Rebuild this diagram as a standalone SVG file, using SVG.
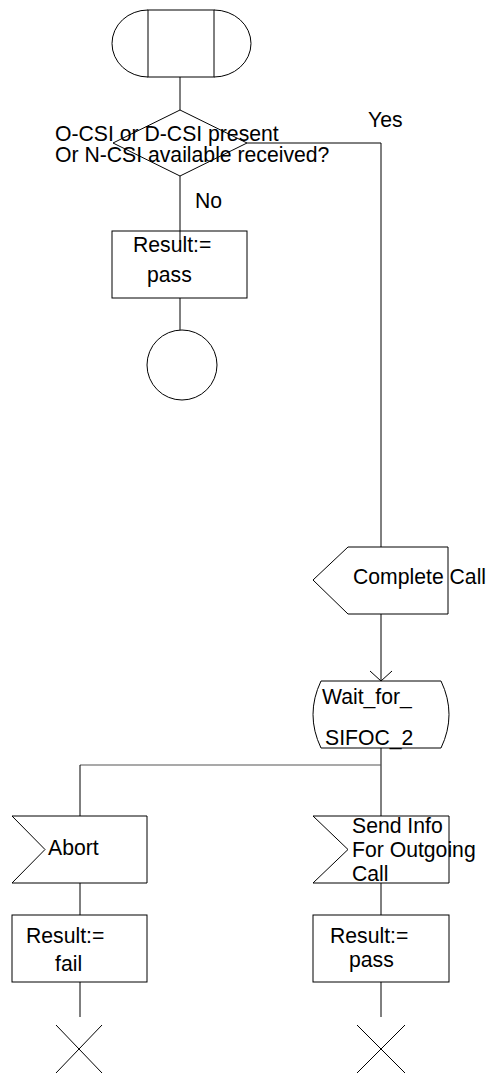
<svg xmlns="http://www.w3.org/2000/svg" width="486" height="1080" viewBox="0 0 486 1080">
<style>
.s{fill:none;stroke:#000;stroke-width:1}
.c{fill:none;stroke:#000;stroke-width:1}
.g{fill:none;stroke:#555;stroke-width:1.2}
text{font-family:"Liberation Sans",Arial,sans-serif;font-size:21.2px;fill:#000}
</style>
<rect width="486" height="1080" fill="#fff"/>
<g id="connectors">
<path class="c" d="M180,77V110"/>
<path class="c" d="M180,176V242"/>
<path class="c" d="M180,298V330"/>
<path class="c" d="M247,143H381V547"/>
<path class="c" d="M381,614V681"/>
<path class="c" d="M370,671L381,681L392,671"/>
<path class="c" d="M381,748V816"/>
<path class="g" d="M80,765H381"/>
<path class="c" d="M80,765V816"/>
<path class="c" d="M80,883V915"/>
<path class="c" d="M80,982V1017"/>
<path class="c" d="M381,883V915"/>
<path class="c" d="M381,982V1017"/>
</g>
<g id="start">
<rect class="s" x="148" y="10" width="66" height="67"/>
<path class="s" d="M148,10A36,33.5 0 0 0 148,77"/>
<path class="s" d="M214,10A37,33.5 0 0 1 214,77"/>
</g>
<g id="decision">
<path class="s" d="M180,110L247,143L180,176L113,143Z"/>
<text x="55" y="141">O-CSI or D-CSI present</text>
<text x="55" y="162">Or N-CSI available received?</text>
<text x="368" y="127">Yes</text>
<text x="195" y="208">No</text>
</g>
<g id="task_pass1">
<rect class="s" x="112" y="231" width="135" height="67"/>
<text x="133" y="252">Result:=</text>
<text x="147" y="282">pass</text>
</g>
<g id="connector_circle">
<circle class="s" cx="182" cy="365" r="35"/>
</g>
<g id="complete_call">
<path class="s" d="M348,547H448V614H348L313,580Z"/>
<text x="353" y="584">Complete Call</text>
</g>
<g id="state">
<path class="s" d="M321,681H441M321,748H441M321,681Q305,714.5 321,748M441,681Q457,714.5 441,748"/>
<text x="322" y="704">Wait_for_</text>
<text x="325" y="745">SIFOC_2</text>
</g>
<g id="abort">
<path class="s" d="M12,816H147V883H12L45,849.5Z"/>
<text x="48" y="855">Abort</text>
</g>
<g id="send_info">
<path class="s" d="M313,816H449V883H313L348,849.5Z"/>
<text x="352" y="833">Send Info</text>
<text x="352" y="857">For Outgoing</text>
<text x="352" y="881">Call</text>
</g>
<g id="task_fail">
<rect class="s" x="12" y="915" width="135" height="67"/>
<text x="26" y="943">Result:=</text>
<text x="55" y="971">fail</text>
</g>
<g id="task_pass2">
<rect class="s" x="313" y="915" width="136" height="67"/>
<text x="330" y="943">Result:=</text>
<text x="349" y="967">pass</text>
</g>
<g id="stop1">
<path class="s" d="M56,1025L102,1073M102,1025L56,1073"/>
</g>
<g id="stop2">
<path class="s" d="M357,1025L405,1073M405,1025L357,1073"/>
</g>
</svg>
